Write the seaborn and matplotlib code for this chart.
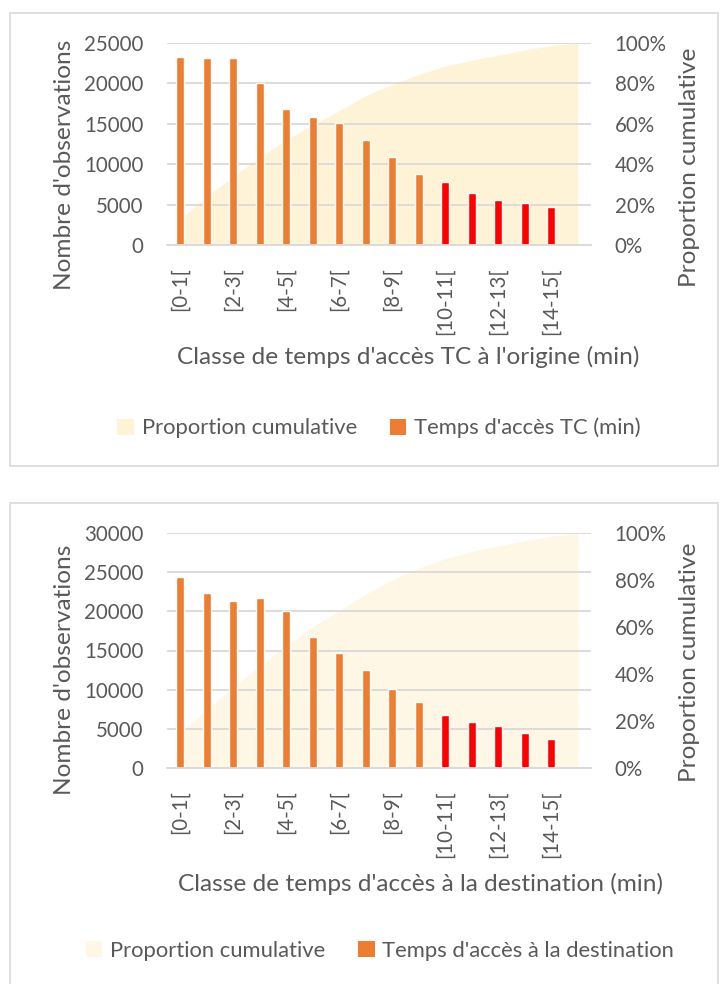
import numpy as np
import seaborn as sns
import matplotlib.pyplot as plt
from matplotlib.patches import Rectangle, Patch
from matplotlib.ticker import PercentFormatter

# data
classes = ['[0-1[', '[1-2[', '[2-3[', '[3-4[', '[4-5[', '[5-6[', '[6-7[', '[7-8[',
           '[8-9[', '[9-10[', '[10-11[', '[11-12[', '[12-13[', '[13-14[', '[14-15[']
n_origine = [23300, 23100, 23100, 20000, 16800, 15900, 15100, 13000,
             10850, 8750, 7800, 6400, 5600, 5200, 4700]
cum_origine = [13, 24, 34, 43.5, 52, 59.5, 66.5, 74, 79.5, 84.5, 88.5, 91.5, 94, 96.5, 98.8, 100]
n_destination = [24300, 22300, 21300, 21700, 20000, 16700, 14700, 12500,
                 10100, 8400, 6800, 5900, 5400, 4500, 3700]
cum_destination = [15, 25, 34.5, 43.5, 52, 60, 67, 74, 80, 85, 89, 92, 94.5, 96.5, 98.5, 100]

ORANGE = '#ED7D31'
RED = '#FF0000'
GREY_TXT = '#595959'
GRID = '#D9D9D9'

sns.set_theme(style='white')
plt.rcParams['font.family'] = ['Lato', 'DejaVu Sans']
FS = 14.8      # tick labels
FS_T = 17.6    # axis titles
FS_L = 15.8    # legend

fig = plt.figure(figsize=(7.27, 9.84), dpi=100)
W, H = 727, 984

# outer boxes around each chart
for (x0, y0, x1, y1) in [(10, 13, 718, 466), (10, 503, 718, 990)]:
    fig.patches.append(Rectangle((x0 / W, 1 - y1 / H), (x1 - x0) / W, (y1 - y0) / H,
                                 transform=fig.transFigure, fill=False,
                                 edgecolor=GRID, linewidth=1.2))


def panel(top, bottom, counts, cum, ymax, area_col, xlabel, barlabel,
          ylab_y, y2lab_y, xlab_pos, leg_y, leg_x):
    ax = fig.add_axes([167 / W, 1 - bottom / H, 424 / W, (bottom - top) / H])
    ax2 = ax.twinx()
    x = np.arange(len(cum))
    ax2.fill_between(x, 0, np.array(cum) / 100, color=area_col, linewidth=0)
    ax2.set_ylim(0, 1)
    ax2.yaxis.set_major_formatter(PercentFormatter(1.0, decimals=0))
    ax2.set_yticks(np.linspace(0, 1, 6))

    cols = [ORANGE] * 10 + [RED] * 5
    sns.barplot(x=list(range(len(counts))), y=counts, hue=list(range(len(counts))),
                palette=cols, width=0.32, legend=False, ax=ax, native_scale=True,
                saturation=1)
    ax.set_zorder(ax2.get_zorder() + 1)
    ax.patch.set_visible(False)
    ax.set_xlim(-0.5, 15.5)
    ax.set_ylim(0, ymax)
    ax.set_yticks(np.arange(0, ymax + 1, 5000))
    ax.yaxis.grid(True, color=GRID, linewidth=1.3)
    ax.set_axisbelow(True)
    ax.set_xticks(range(0, 15, 2))
    ax.set_xticklabels(classes[::2], rotation=90)

    for a in (ax, ax2):
        for s in a.spines.values():
            s.set_visible(False)
        a.tick_params(length=0, labelsize=FS, labelcolor=GREY_TXT)
    ax.tick_params(axis='y', pad=17)
    ax.tick_params(axis='x', pad=16)
    ax2.tick_params(axis='y', pad=17)
    ax.spines['bottom'].set_visible(True)
    ax.spines['bottom'].set_color(GRID)
    ax.spines['bottom'].set_linewidth(1.3)

    ax.set_ylabel("Nombre d'observations", fontsize=FS_T, color=GREY_TXT)
    ax.yaxis.set_label_coords((75 - 167) / 424, (bottom - ylab_y) / (bottom - top))
    ax2.set_ylabel('Proportion cumulative', fontsize=FS_T, color=GREY_TXT)
    ax2.yaxis.set_label_coords((679 - 167) / 424, (bottom - y2lab_y) / (bottom - top))
    ax.set_xlabel('')
    fig.text(xlab_pos[0] / W, 1 - xlab_pos[1] / H, xlabel, ha='center', va='center',
             fontsize=FS_T, color=GREY_TXT)

    handles = [Patch(facecolor=area_col, edgecolor='none'),
               Patch(facecolor=ORANGE, edgecolor='none')]
    fig.legend(handles, ['Proportion cumulative', barlabel], loc='center',
               bbox_to_anchor=(leg_x / W, 1 - leg_y / H), ncol=2, frameon=False,
               fontsize=FS_L, labelcolor=GREY_TXT, handlelength=0.75, handleheight=0.75,
               handletextpad=0.35, columnspacing=1.5)
    return ax


panel(43, 245, n_origine, cum_origine, 25000, '#FFF3D7',
      "Classe de temps d'accès TC à l'origine (min)", "Temps d'accès TC (min)",
      165, 167, (408, 357), 428, 379)
panel(532.7, 768.3, n_destination, cum_destination, 30000, '#FEF7E6',
      "Classe de temps d'accès à la destination (min)", "Temps d'accès à la destination",
      670, 662, (420, 884), 951, 380)

fig.savefig('out.png', dpi=100)
